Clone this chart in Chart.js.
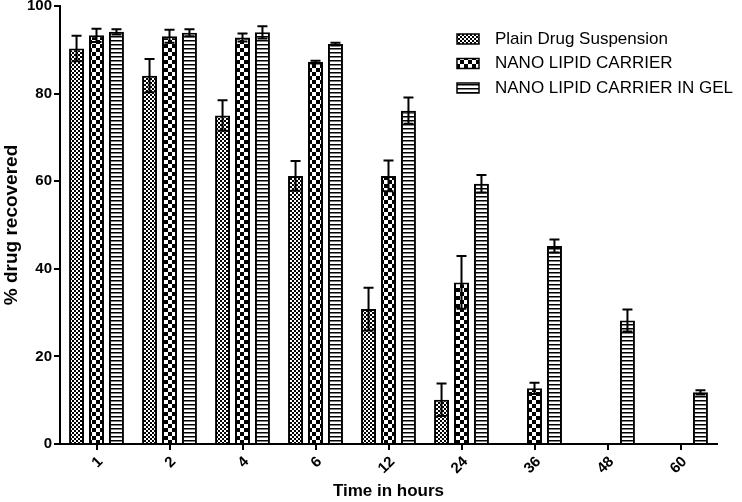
<!DOCTYPE html>
<html>
<head>
<meta charset="utf-8">
<script src="https://cdn.jsdelivr.net/npm/chart.js@4"></script>
<style>
  body { margin: 0; background: #fff; }
  .container { width: 742px; height: 502px; }
</style>
</head>
<body>
<div class="container"><canvas id="chart" width="742" height="502"></canvas></div>
<script>
const labels = ['1', '2', '4', '6', '12', '24', '36', '48', '60'];

const plainData = [90.3, 84.1, 75.0, 61.2, 30.8, 10.1, null, null, null];
const plainErr = [2.9, 3.8, 3.5, 3.4, 4.9, 3.7, null, null, null];

const nanoData = [93.3, 93.1, 92.8, 87.2, 61.2, 36.9, 12.7, null, null];
const nanoErr = [1.5, 1.5, 0.9, 0.3, 3.5, 6.0, 1.3, null, null];

const gelData = [94.1, 93.9, 94.0, 91.3, 76.1, 59.4, 45.2, 28.2, 11.8];
const gelErr = [0.6, 0.8, 1.4, 0.3, 3.0, 2.0, 1.5, 2.5, 0.5];

const FONT = '"Liberation Sans", Arial, sans-serif';

// fill patterns, like the prism figure
function makePattern(w, h, draw) {
  const c = document.createElement('canvas');
  c.width = w;
  c.height = h;
  const ctx = c.getContext('2d');
  ctx.fillStyle = '#fff';
  ctx.fillRect(0, 0, w, h);
  ctx.fillStyle = '#000';
  draw(ctx);
  return document.createElement('canvas').getContext('2d').createPattern(c, 'repeat');
}

const finePattern = makePattern(4, 4, ctx => {
  ctx.fillRect(0, 0, 2, 2);
  ctx.fillRect(2, 2, 2, 2);
});
const checkPattern = makePattern(8, 8, ctx => {
  ctx.fillRect(0, 0, 4, 4);
  ctx.fillRect(4, 4, 4, 4);
});
const stripePattern = makePattern(4, 4, ctx => {
  ctx.fillRect(0, 0, 4, 1.5);
});

const errorBars = {
  id: 'errorBars',
  afterDatasetsDraw(chart) {
    const ctx = chart.ctx;
    const y = chart.scales.y;
    ctx.save();
    ctx.strokeStyle = '#000';
    ctx.lineWidth = 2;
    chart.data.datasets.forEach((ds, i) => {
      const meta = chart.getDatasetMeta(i);
      meta.data.forEach((bar, j) => {
        const v = ds.data[j];
        const e = ds.errors[j];
        if (v === null || e === null) return;
        const top = y.getPixelForValue(v + e);
        const bot = y.getPixelForValue(v - e);
        ctx.beginPath();
        ctx.moveTo(bar.x, top);
        ctx.lineTo(bar.x, bot);
        ctx.moveTo(bar.x - 5, top);
        ctx.lineTo(bar.x + 5, top);
        ctx.moveTo(bar.x - 5, bot);
        ctx.lineTo(bar.x + 5, bot);
        ctx.stroke();
      });
    });
    ctx.restore();
  }
};

const boxLegend = {
  id: 'boxLegend',
  afterDraw(chart) {
    const ctx = chart.ctx;
    ctx.save();
    ctx.font = '17px ' + FONT;
    ctx.textBaseline = 'middle';
    chart.data.datasets.forEach((ds, i) => {
      const cy = 39 + i * 24.5;
      ctx.fillStyle = ds.backgroundColor;
      ctx.fillRect(457, cy - 5, 22, 10);
      ctx.strokeStyle = '#000';
      ctx.lineWidth = 1.5;
      ctx.strokeRect(457, cy - 5, 22, 10);
      ctx.fillStyle = '#000';
      ctx.fillText(ds.label, 495, cy);
    });
    ctx.restore();
  }
};

const axisGrid = {
  display: true,
  drawOnChartArea: false,
  drawTicks: true,
  tickLength: 6,
  color: '#000',
  lineWidth: 2,
  offset: false
};

const data = {
  labels: labels,
  datasets: [{
    label: 'Plain Drug Suspension',
    data: plainData,
    errors: plainErr,
    backgroundColor: finePattern
  }, {
    label: 'NANO LIPID CARRIER',
    data: nanoData,
    errors: nanoErr,
    backgroundColor: checkPattern
  }, {
    label: 'NANO LIPID CARRIER IN GEL',
    data: gelData,
    errors: gelErr,
    backgroundColor: stripePattern
  }]
};

const myChart = new Chart(document.getElementById('chart'), {
  type: 'bar',
  data: data,
  options: {
    responsive: false,
    animation: false,
    layout: { padding: { top: 6, right: 25, left: 0, bottom: 0 } },
    datasets: {
      bar: {
        borderColor: '#000',
        borderWidth: 2,
        categoryPercentage: 0.82,
        barPercentage: 0.75
      }
    },
    plugins: {
      legend: { display: false },
      tooltip: { enabled: false }
    },
    scales: {
      x: {
        offset: true,
        grid: axisGrid,
        border: { color: '#000', width: 2 },
        ticks: {
          minRotation: 45,
          maxRotation: 45,
          labelOffset: 4,
          color: '#000',
          font: { family: FONT, size: 15, weight: 'bold' }
        },
        title: {
          display: true,
          text: 'Time in hours',
          color: '#000',
          padding: 0,
          font: { family: FONT, size: 17, weight: 'bold' }
        },
        afterFit(scale) { scale.height = 58; }
      },
      y: {
        min: 0,
        max: 100,
        grid: axisGrid,
        border: { color: '#000', width: 2 },
        ticks: {
          stepSize: 20,
          padding: 2,
          color: '#000',
          font: { family: FONT, size: 15, weight: 'bold' }
        },
        title: {
          display: true,
          text: '% drug recovered',
          color: '#000',
          padding: 0,
          font: { family: FONT, size: 19, weight: 'bold' }
        },
        afterFit(scale) {
          scale.width = 60;
          scale.paddingTop = 0;
          scale.paddingBottom = 0;
        }
      }
    }
  },
  plugins: [errorBars, boxLegend]
});
</script>
</body>
</html>
